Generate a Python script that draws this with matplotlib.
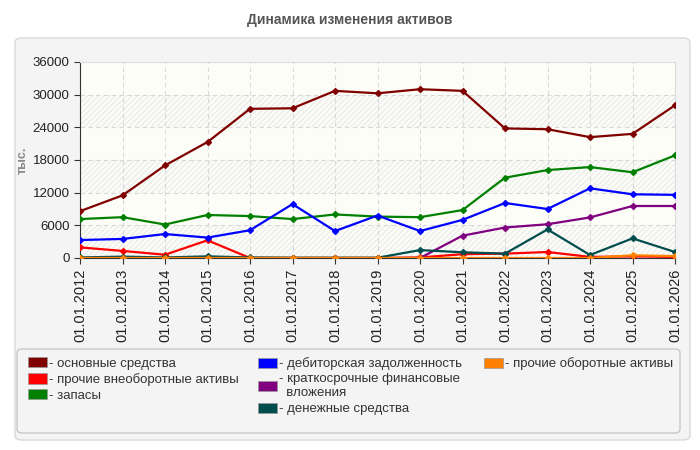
import matplotlib.pyplot as plt
from matplotlib.patches import FancyBboxPatch, Patch

plt.rcParams['font.family'] = ['Liberation Sans', 'DejaVu Sans']

# data
dates = ["01.01.%d" % y for y in range(2012, 2027)]
osnovnye = [8600, 11500, 17000, 21300, 27400, 27500, 30700, 30250, 31000, 30700,
            23800, 23650, 22200, 22800, 28050]
proch_vneob = [1950, 1300, 600, 3250, 0, 0, 0, 0, 100, 700, 800, 1100, 200, 300, 200]
zapasy = [7150, 7500, 6150, 7900, 7700, 7150, 8000, 7600, 7500, 8800, 14750, 16150,
          16700, 15750, 18850]
debitor = [3300, 3500, 4400, 3750, 5100, 9900, 4950, 7800, 4950, 7000, 10100, 9000,
           12800, 11700, 11600]
kratkosr = [0, 0, 0, 0, 0, 0, 0, 0, 0, 4100, 5600, 6200, 7450, 9550, 9550]
denezhnye = [100, 250, 100, 300, 100, 50, 50, 50, 1450, 1050, 800, 5250, 550, 3600, 1100]
proch_ob = [0, 0, 0, 0, 0, 0, 0, 0, 0, 0, 0, 0, 0, 500, 350]

labels = ["основные средства", "прочие внеоборотные активы", "запасы",
          "дебиторская задолженность", "краткосрочные финансовые\n  вложения",
          "денежные средства", "прочие оборотные активы"]
series = [osnovnye, proch_vneob, zapasy, debitor, kratkosr, denezhnye, proch_ob]
colors = ["#800000", "#ff0000", "#008000", "#0000ff", "#800080", "#004d4d", "#ff8000"]
yticks = [0, 6000, 12000, 18000, 24000, 30000, 36000]

fig = plt.figure(figsize=(7, 4.5), dpi=100)
fig.patch.set_facecolor("white")

# grey panel
fig.patches.append(FancyBboxPatch((15 / 700, 10 / 450), 675 / 700, 402 / 450,
                                  boxstyle="round,pad=0,rounding_size=0.01",
                                  transform=fig.transFigure, facecolor="#f4f4f4",
                                  edgecolor="#d9d9d9", linewidth=1, zorder=-10))
fig.text(0.5, 1 - 20 / 450, "Динамика изменения активов", ha="center", va="center",
         fontsize=10, fontweight="bold", color="#555555")

ax = fig.add_axes([80 / 700, 1 - 258 / 450, 595 / 700, 196 / 450])
ax.set_facecolor("#fdfdf8")
x = list(range(len(dates)))
for i in range(0, len(yticks) - 1, 2):
    ax.axhspan(yticks[i], yticks[i + 1], facecolor="none", edgecolor="#ececec",
               hatch="//////", linewidth=0, zorder=0)

for vals, c in zip(series, colors):
    ax.plot(x, vals, color=c, linewidth=1.6, marker="D", markersize=3, zorder=3)

ax.set_xlim(0, len(dates) - 1)
ax.set_ylim(0, 36000)
ax.set_yticks(yticks)
ax.set_xticks(x)
ax.set_xticklabels(dates, rotation=90, fontsize=10.5, color="#222222")
ax.tick_params(axis="y", labelsize=9.5, labelcolor="#222222", length=4, color="#333333")
ax.tick_params(axis="x", length=4, color="#333333")
ax.grid(True, color="#d8d8d8", linestyle=(0, (4, 3)), linewidth=0.8)
ax.set_axisbelow(True)
for s in ["top", "right"]:
    ax.spines[s].set_color("#dddddd")
for s in ["left", "bottom"]:
    ax.spines[s].set_color("#333333")
ax.set_ylabel("тыс.", fontsize=9, fontweight="bold", color="#888888", labelpad=3)

# legend panel
fig.patches.append(FancyBboxPatch((17 / 700, 1 - 433 / 450), 663 / 700, 84 / 450,
                                  boxstyle="round,pad=0,rounding_size=0.008",
                                  transform=fig.transFigure, facecolor="#f4f4f4",
                                  edgecolor="#c8c8c8", linewidth=1, zorder=-5))
groups = [(0, 3, 19), (3, 6, 249), (6, 7, 475)]
for start, end, xpx in groups:
    handles = [Patch(facecolor=colors[k], edgecolor="#999999", linewidth=0.5,
                     label="- " + labels[k]) for k in range(start, end)]
    leg = fig.legend(handles=handles, loc="upper left",
                     bbox_to_anchor=(xpx / 700, 1 - 348 / 450), frameon=False,
                     fontsize=9.5, handlelength=1.4, handleheight=0.8,
                     handletextpad=0.2, labelspacing=0.25, borderpad=0.2)
    for t in leg.get_texts():
        t.set_color("#333333")

fig.savefig("out.png", dpi=100)
